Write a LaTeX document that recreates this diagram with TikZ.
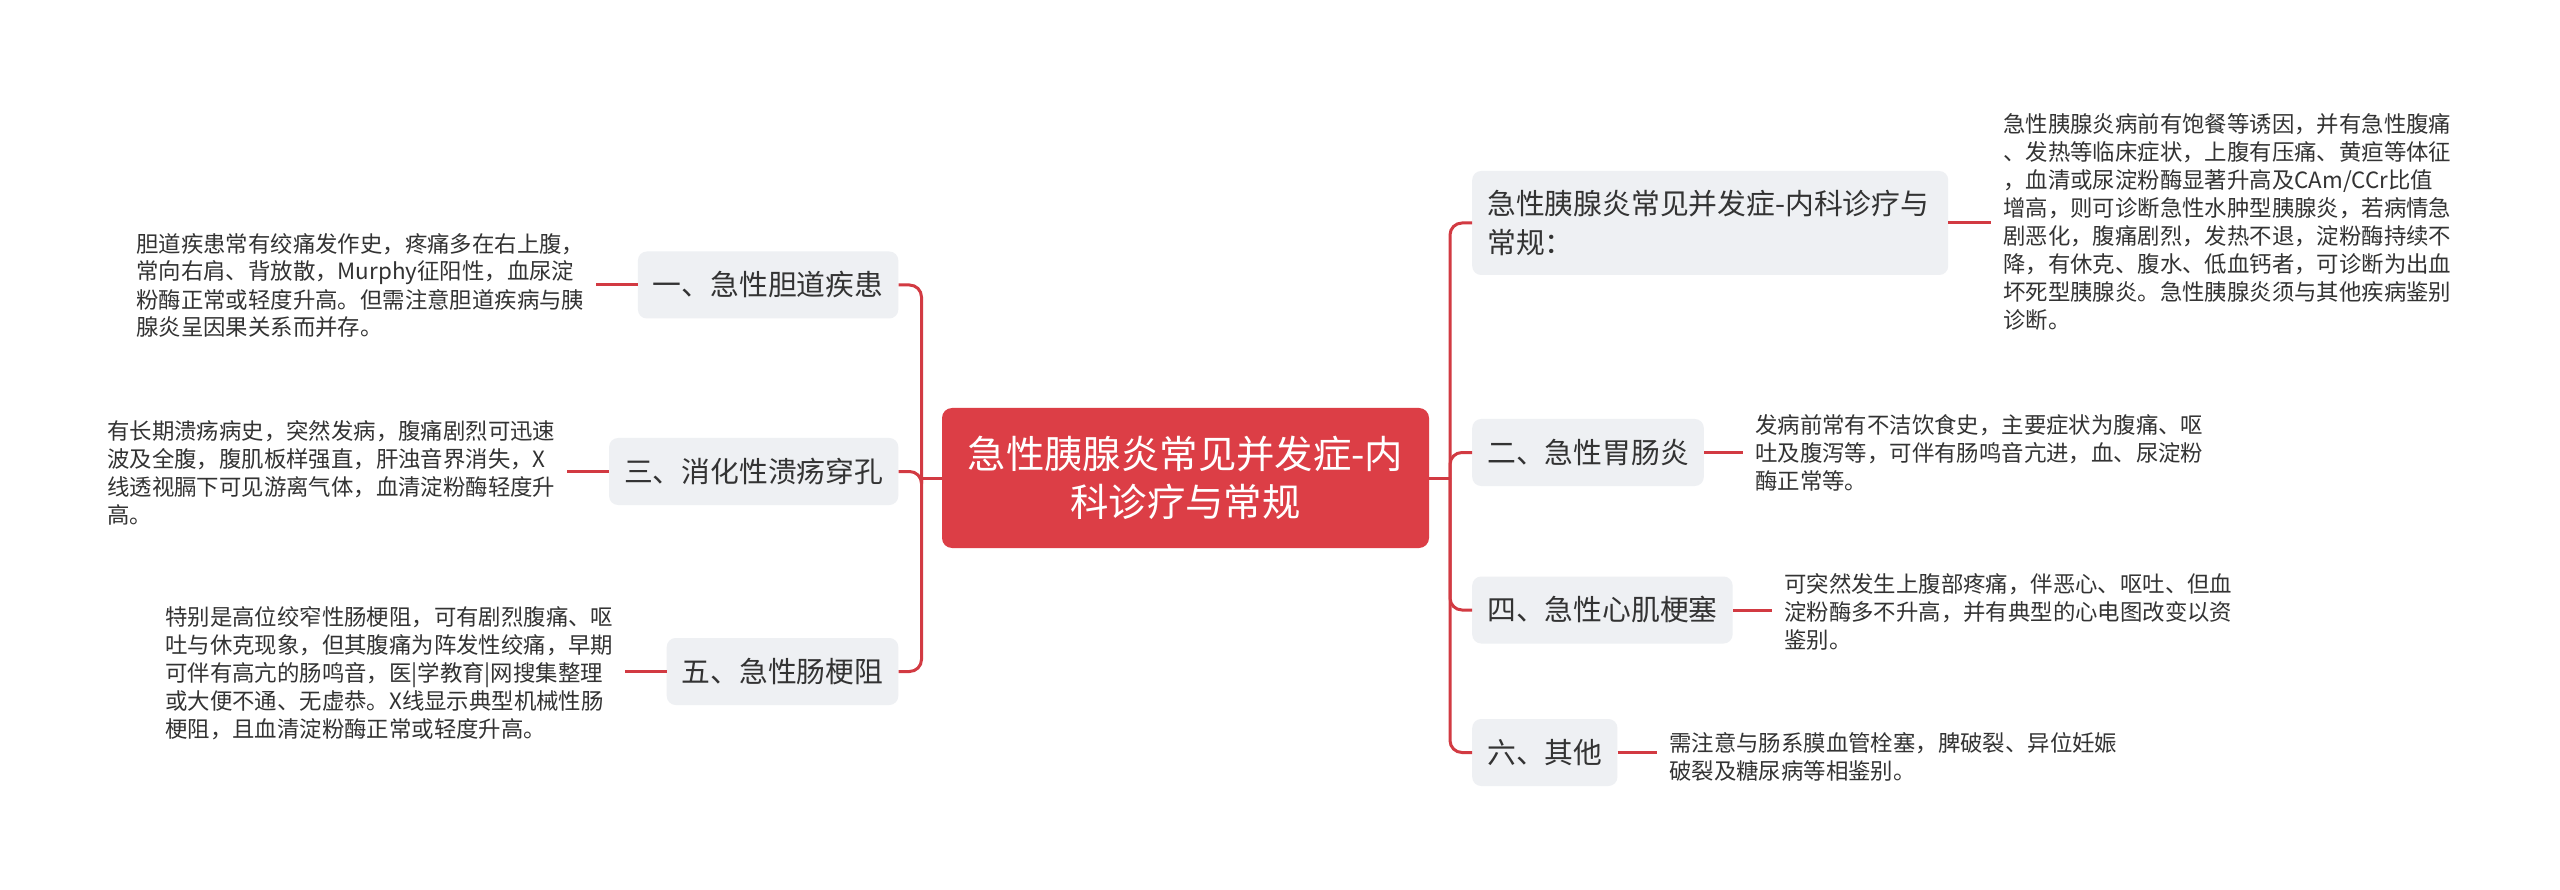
\documentclass[tikz,border=0pt]{standalone}
\usepackage{fontspec}
\setmainfont{Noto Sans CJK SC}
\usepackage{tikz}
\usetikzlibrary{positioning}

\definecolor{rootred}{HTML}{DC3E46}
\definecolor{linkred}{HTML}{D23A42}
\definecolor{branchgray}{HTML}{EEF0F3}
\definecolor{textgray}{HTML}{333333}

\begin{document}
\begin{tikzpicture}[x=1pt,y=-1pt,
	root_node/.style={fill=rootred,text=white,rounded corners=10pt,align=center,minimum width=487pt,minimum height=140pt,inner sep=0pt,font=\fontsize{38.4}{48}\selectfont},
	branch_node/.style={fill=branchgray,text=textgray,rounded corners=9pt,inner xsep=15pt,inner ysep=0pt,minimum height=67pt,font=\fontsize{28.8}{38.4}\selectfont},
	leaf_node/.style={text=textgray,align=left,inner xsep=12pt,inner ysep=0pt,anchor=west,font=\fontsize{22.4}{28}\selectfont},
	link_line/.style={draw=linkred,line width=3pt,rounded corners=12pt}]
	\useasboundingbox[fill=white] (0,0) rectangle (2560,890);

	\node[root_node] (root) at (1185.5,478) {急性胰腺炎常见并发症-内\\科诊疗与常规};

	\node[branch_node,anchor=west,align=left,text width=446pt,minimum height=104pt] (b0) at (1472,223) {急性胰腺炎常见并发症-内科诊疗与\\常规：};
	\node[branch_node,anchor=west] (b2) at (1472,452.5) {二、急性胃肠炎};
	\node[branch_node,anchor=west] (b4) at (1472,610) {四、急性心肌梗塞};
	\node[branch_node,anchor=west] (b6) at (1472,752.5) {六、其他};
	\node[branch_node,anchor=east] (b1) at (898.5,285) {一、急性胆道疾患};
	\node[branch_node,anchor=east] (b3) at (898.5,471.5) {三、消化性溃疡穿孔};
	\node[branch_node,anchor=east] (b5) at (898.5,671.5) {五、急性肠梗阻};

	\node[leaf_node] (t0) at (1991,222) {急性胰腺炎病前有饱餐等诱因，并有急性腹痛\\、发热等临床症状，上腹有压痛、黄疸等体征\\，血清或尿淀粉酶显著升高及CAm/CCr比值\\增高，则可诊断急性水肿型胰腺炎，若病情急\\剧恶化，腹痛剧烈，发热不退，淀粉酶持续不\\降，有休克、腹水、低血钙者，可诊断为出血\\坏死型胰腺炎。急性胰腺炎须与其他疾病鉴别\\诊断。};
	\node[leaf_node] (t2) at (1743,453) {发病前常有不洁饮食史，主要症状为腹痛、呕\\吐及腹泻等，可伴有肠鸣音亢进，血、尿淀粉\\酶正常等。};
	\node[leaf_node] (t4) at (1772,612) {可突然发生上腹部疼痛，伴恶心、呕吐、但血\\淀粉酶多不升高，并有典型的心电图改变以资\\鉴别。};
	\node[leaf_node] (t6) at (1657,757) {需注意与肠系膜血管栓塞，脾破裂、异位妊娠\\破裂及糖尿病等相鉴别。};
	\node[leaf_node] (t1) at (124,285.5) {胆道疾患常有绞痛发作史，疼痛多在右上腹，\\常向右肩、背放散，Murphy征阳性，血尿淀\\粉酶正常或轻度升高。但需注意胆道疾病与胰\\腺炎呈因果关系而并存。};
	\node[leaf_node] (t3) at (95,473) {有长期溃疡病史，突然发病，腹痛剧烈可迅速\\波及全腹，腹肌板样强直，肝浊音界消失，X\\线透视膈下可见游离气体，血清淀粉酶轻度升\\高。};
	\node[leaf_node] (t5) at (153,673) {特别是高位绞窄性肠梗阻，可有剧烈腹痛、呕\\吐与休克现象，但其腹痛为阵发性绞痛，早期\\可伴有高亢的肠鸣音，医|学教育|网搜集整理\\或大便不通、无虚恭。X线显示典型机械性肠\\梗阻，且血清淀粉酶正常或轻度升高。};

	\coordinate (rspine) at (1450,478);
	\coordinate (lspine) at (921.5,478);

	\draw[link_line] (root.east) -- (rspine);
	\draw[link_line] (root.west) -- (lspine);
	\draw[link_line] (rspine) |- (b0.west);
	\draw[link_line] (rspine) |- (b2.west);
	\draw[link_line] (rspine) |- (b4.west);
	\draw[link_line] (rspine) |- (b6.west);
	\draw[link_line] (lspine) |- (b1.east);
	\draw[link_line] (lspine) |- (b3.east);
	\draw[link_line] (lspine) |- (b5.east);

	\draw[link_line] (b0.east) -- (b0.east -| t0.west);
	\draw[link_line] (b2.east) -- (b2.east -| t2.west);
	\draw[link_line] (b4.east) -- (b4.east -| t4.west);
	\draw[link_line] (b6.east) -- (b6.east -| t6.west);
	\draw[link_line] (b1.west) -- (b1.west -| t1.east);
	\draw[link_line] (b3.west) -- (b3.west -| t3.east);
	\draw[link_line] (b5.west) -- (b5.west -| t5.east);
\end{tikzpicture}
\end{document}
